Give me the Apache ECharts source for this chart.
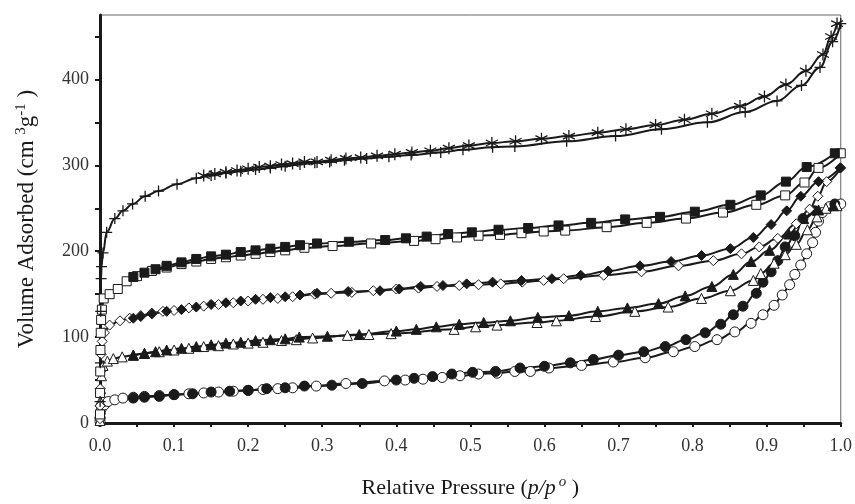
<!DOCTYPE html>
<html>
<head>
<meta charset="utf-8">
<script src="https://cdn.jsdelivr.net/npm/echarts@6/dist/echarts.min.js"></script>
<style>
  html, body { margin: 0; padding: 0; background: #fff; }
  #chart { width: 855px; height: 504px; }
</style>
</head>
<body>
<div id="chart"></div>
<script>
'use strict';

// tick positions
var xTicks = [0, 0.05, 0.1, 0.15, 0.2, 0.25, 0.3, 0.35, 0.4, 0.45, 0.5, 0.55, 0.6, 0.65, 0.7, 0.75, 0.8, 0.85, 0.9, 0.95, 1.0];
var xLabels = [0, 0.1, 0.2, 0.3, 0.4, 0.5, 0.6, 0.7, 0.8, 0.9, 1.0];
var yTicks = [0, 50, 100, 150, 200, 250, 300, 350, 400, 450];
var yLabels = [0, 100, 200, 300, 400];

// sample 1: + adsorption, * desorption
var ads1X = [0.0001, 0.0004, 0.001, 0.0015, 0.002, 0.004, 0.009, 0.02, 0.031, 0.044, 0.061, 0.079, 0.104, 0.13, 0.15, 0.17, 0.19, 0.21, 0.23, 0.25, 0.27, 0.29, 0.31, 0.33, 0.36, 0.39, 0.42, 0.46, 0.49, 0.53, 0.56, 0.63, 0.696, 0.758, 0.82, 0.871, 0.914, 0.947, 0.972, 0.989, 1.0];
var ads1Y = [25, 70, 130, 168, 182, 198, 222, 238, 247, 255, 264, 270, 278, 285, 288, 291, 293, 295, 297, 299, 301, 303, 304, 306, 308, 310, 312, 315, 318, 321, 322, 328, 334, 342, 350, 362, 375, 393, 414, 444, 465];
var des1X = [0.995, 0.987, 0.976, 0.953, 0.926, 0.897, 0.864, 0.826, 0.789, 0.75, 0.71, 0.672, 0.633, 0.596, 0.561, 0.529, 0.498, 0.471, 0.446, 0.421, 0.398, 0.374, 0.352, 0.332, 0.312, 0.293, 0.276, 0.26, 0.245, 0.23, 0.215, 0.2, 0.185, 0.17, 0.155, 0.14];
var des1Y = [465, 450, 429, 410, 394, 380, 369, 360, 353, 347, 342, 338, 334, 331, 328, 326, 323, 320, 317, 315, 313, 311, 309, 308, 306, 304, 304, 302, 301, 299, 298, 296, 294, 292, 290, 288];

// sample 2: squares
var ads2X = [0.00002, 0.0001, 0.0003, 0.0006, 0.001, 0.0015, 0.0025, 0.005, 0.013, 0.024, 0.036, 0.05, 0.07, 0.09, 0.11, 0.13, 0.15, 0.17, 0.19, 0.21, 0.23, 0.25, 0.276, 0.314, 0.366, 0.424, 0.453, 0.482, 0.511, 0.54, 0.569, 0.599, 0.628, 0.684, 0.738, 0.791, 0.841, 0.886, 0.925, 0.951, 0.97, 1.0];
var ads2Y = [10, 35, 60, 85, 105, 120, 132, 145, 150, 156, 165, 171, 177, 181, 185, 188, 191, 193, 195, 197, 199, 201, 204, 206, 209, 212, 214, 216, 218, 219, 221, 223, 224, 228, 233, 238, 245, 254, 265, 280, 297, 314];
var des2X = [0.992, 0.954, 0.926, 0.892, 0.851, 0.803, 0.756, 0.709, 0.663, 0.619, 0.578, 0.538, 0.502, 0.47, 0.441, 0.413, 0.385, 0.336, 0.293, 0.27, 0.25, 0.23, 0.21, 0.19, 0.17, 0.15, 0.13, 0.11, 0.09, 0.075, 0.06, 0.045];
var des2Y = [314, 298, 281, 265, 254, 246, 240, 237, 233, 230, 227, 225, 222, 220, 217, 215, 213, 211, 209, 207, 205, 203, 201, 199, 196, 194, 191, 187, 183, 179, 175, 170];

// sample 3: diamonds
var ads3X = [0.00002, 0.0001, 0.0003, 0.0007, 0.0015, 0.003, 0.006, 0.013, 0.027, 0.04, 0.055, 0.07, 0.085, 0.1, 0.12, 0.14, 0.16, 0.18, 0.2, 0.22, 0.24, 0.26, 0.29, 0.312, 0.34, 0.369, 0.4, 0.43, 0.455, 0.485, 0.511, 0.541, 0.57, 0.599, 0.626, 0.68, 0.731, 0.781, 0.828, 0.866, 0.89, 0.915, 0.94, 0.958, 0.969, 0.981, 1.0];
var ads3Y = [5, 20, 40, 60, 80, 95, 105, 114, 119, 122, 125, 128, 130, 131, 134, 136, 138, 140, 142, 144, 145, 147, 150, 151, 152, 154, 156, 157, 159, 160, 161, 162, 164, 166, 168, 172, 176, 183, 189, 197, 205, 215, 232, 249, 264, 281, 297];
var des3X = [0.999, 0.97, 0.946, 0.927, 0.906, 0.882, 0.851, 0.812, 0.771, 0.729, 0.686, 0.649, 0.61, 0.569, 0.53, 0.495, 0.463, 0.433, 0.404, 0.378, 0.335, 0.293, 0.27, 0.25, 0.23, 0.21, 0.19, 0.17, 0.15, 0.13, 0.11, 0.09, 0.07, 0.055, 0.045];
var des3Y = [297, 281, 264, 247, 231, 216, 203, 195, 188, 183, 177, 172, 168, 166, 164, 162, 160, 159, 156, 154, 153, 151, 149, 147, 146, 144, 142, 140, 138, 135, 132, 130, 127, 124, 122];

// sample 4: triangles
var ads4X = [0.00002, 0.0001, 0.0003, 0.0008, 0.002, 0.004, 0.01, 0.018, 0.03, 0.045, 0.06, 0.08, 0.1, 0.12, 0.14, 0.16, 0.18, 0.2, 0.22, 0.245, 0.265, 0.287, 0.334, 0.363, 0.393, 0.478, 0.507, 0.536, 0.59, 0.616, 0.669, 0.722, 0.767, 0.812, 0.851, 0.882, 0.892, 0.91, 0.925, 0.94, 0.955, 0.968, 0.98, 0.995];
var ads4Y = [3, 12, 25, 40, 55, 67, 72, 75, 77, 79, 81, 83, 85, 87, 89, 90, 92, 93, 94, 96, 97, 99, 102, 103, 104, 109, 112, 114, 117, 119, 124, 130, 135, 145, 154, 166, 174, 186, 196, 208, 225, 240, 250, 253];
var des4X = [0.99, 0.97, 0.95, 0.93, 0.904, 0.879, 0.855, 0.826, 0.79, 0.754, 0.712, 0.672, 0.633, 0.591, 0.554, 0.518, 0.485, 0.454, 0.427, 0.4, 0.35, 0.307, 0.269, 0.25, 0.23, 0.21, 0.19, 0.17, 0.15, 0.13, 0.11, 0.09, 0.075, 0.06, 0.045];
var des4Y = [253, 248, 238, 220, 201, 188, 173, 159, 148, 139, 134, 130, 125, 123, 119, 117, 115, 112, 109, 107, 103, 101, 100, 98, 97, 96, 94, 93, 91, 89, 87, 85, 83, 81, 79];

// sample 5: circles
var ads5X = [0.00002, 0.0001, 0.0005, 0.002, 0.006, 0.011, 0.02, 0.031, 0.045, 0.06, 0.08, 0.1, 0.12, 0.14, 0.16, 0.18, 0.2, 0.22, 0.24, 0.26, 0.292, 0.332, 0.384, 0.412, 0.436, 0.462, 0.486, 0.511, 0.536, 0.56, 0.581, 0.606, 0.65, 0.693, 0.736, 0.774, 0.803, 0.833, 0.857, 0.879, 0.895, 0.91, 0.921, 0.931, 0.938, 0.946, 0.954, 0.962, 0.966, 0.97, 0.975, 0.985, 1.0];
var ads5Y = [2, 6, 12, 17, 21, 25, 27, 29, 30, 31, 32, 33, 34, 35, 36, 37, 38, 39, 40, 41, 43, 46, 49, 50, 51, 53, 55, 57, 58, 60, 60, 64, 67, 71, 76, 83, 89, 97, 106, 116, 126, 137, 149, 161, 173, 184, 197, 210, 222, 235, 245, 252, 255];
var des5X = [0.992, 0.965, 0.949, 0.938, 0.925, 0.915, 0.906, 0.895, 0.886, 0.868, 0.855, 0.838, 0.817, 0.791, 0.763, 0.734, 0.7, 0.666, 0.635, 0.6, 0.567, 0.534, 0.503, 0.475, 0.449, 0.424, 0.4, 0.354, 0.313, 0.276, 0.25, 0.225, 0.2, 0.175, 0.15, 0.125, 0.1, 0.08, 0.06, 0.045];
var des5Y = [255, 247, 238, 218, 205, 189, 176, 164, 151, 136, 126, 115, 105, 97, 89, 83, 79, 74, 70, 66, 64, 60, 59, 57, 54, 52, 50, 46, 44, 43, 41, 40, 38, 37, 36, 34, 33, 31, 30, 29];

var FONT = 'Liberation Serif, Times New Roman, serif';
var INK = '#1a1a1a';
var PLUS = 'path://M5,0L5,10M0,5L10,5';
var STAR = 'path://M5,0L5,10M0.7,2.5L9.3,7.5M9.3,2.5L0.7,7.5';

function pairs(xs, ys) {
    return xs.map(function (x, i) { return [x, ys[i]]; });
}

/**
 * one isotherm branch
 *
 * @param {Array} xs, relative pressures
 * @param {Array} ys, adsorbed volumes
 * @param {String} symbol, marker shape
 * @param {Boolean} filled, solid marker or hollow
 */
function branch(xs, ys, symbol, filled, size) {
    var stroked = symbol === PLUS || symbol === STAR;
    return {
        type: 'line',
        data: pairs(xs, ys),
        smooth: 0.4,
        smoothMonotone: 'x',
        symbol: symbol,
        symbolSize: size || 10,
        showAllSymbol: true,
        lineStyle: { color: INK, width: 2 },
        itemStyle: {
            color: stroked ? INK : (filled ? INK : '#fff'),
            borderColor: INK,
            borderWidth: stroked ? 1.3 : 1
        },
        emphasis: { disabled: true },
        animation: false
    };
}

var chart = echarts.init(document.getElementById('chart'), null, { renderer: 'canvas' });

chart.setOption({
    backgroundColor: '#fff',
    textStyle: { fontFamily: FONT },
    grid: {
        left: 100, right: 12, top: 15, bottom: 79,
        show: true, borderColor: '#666', borderWidth: 1, backgroundColor: 'transparent'
    },
    xAxis: {
        type: 'value',
        min: 0,
        max: 1,
        interval: 0.05,
        name: 'Relative Pressure ({it|p/p}{sup|o}{n| )}',
        nameLocation: 'middle',
        nameGap: 52,
        nameTextStyle: {
            fontFamily: FONT, fontSize: 22, color: INK,
            rich: {
                it: { fontFamily: FONT, fontSize: 22, fontStyle: 'italic', color: INK },
                sup: { fontFamily: FONT, fontSize: 15, fontStyle: 'italic', color: INK, padding: [0, 0, 11, 3] },
                n: { fontFamily: FONT, fontSize: 22, color: INK }
            }
        },
        axisLine: { show: true, onZero: false, lineStyle: { color: INK, width: 3 } },
        axisTick: { show: true, length: 4, customValues: xTicks, lineStyle: { color: INK, width: 2 } },
        axisLabel: {
            customValues: xLabels,
            margin: 14,
            fontFamily: FONT, fontSize: 18, color: '#333',
            formatter: function (v) { return v.toFixed(1); }
        },
        splitLine: { show: false }
    },
    yAxis: {
        type: 'value',
        min: 0,
        max: 475,
        interval: 50,
        name: 'Volume Adsorbed (cm {sup|3}g{sup|-1}{n| )}',
        nameLocation: 'middle',
        nameGap: 60,
        nameRotate: 90,
        nameTextStyle: {
            fontFamily: FONT, fontSize: 23, color: INK,
            rich: {
                sup: { fontFamily: FONT, fontSize: 15, color: INK, padding: [0, 0, 11, 0] },
                n: { fontFamily: FONT, fontSize: 23, color: INK }
            }
        },
        axisLine: { show: true, onZero: false, lineStyle: { color: INK, width: 3 } },
        axisTick: { show: true, length: 5, customValues: yTicks, lineStyle: { color: INK, width: 2 } },
        axisLabel: {
            customValues: yLabels,
            margin: 11,
            fontFamily: FONT, fontSize: 18, color: '#333'
        },
        splitLine: { show: false }
    },
    series: [
        branch(ads5X, ads5Y, 'circle', false, 10),
        branch(des5X, des5Y, 'circle', true, 10),
        branch(ads4X, ads4Y, 'triangle', false, 10),
        branch(des4X, des4Y, 'triangle', true, 10),
        branch(ads3X, ads3Y, 'diamond', false, 10),
        branch(des3X, des3Y, 'diamond', true, 10),
        branch(ads2X, ads2Y, 'rect', false, 9),
        branch(des2X, des2Y, 'rect', true, 9),
        branch(ads1X, ads1Y, PLUS, false, 11),
        branch(des1X, des1Y, STAR, false, 12)
    ]
});
</script>
</body>
</html>
